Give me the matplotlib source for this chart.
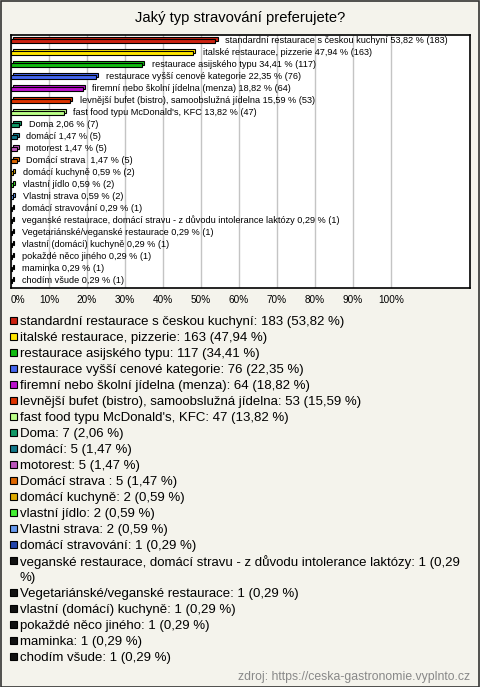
import numpy as np
import matplotlib.pyplot as plt
from matplotlib.patches import Rectangle

plt.rcParams['font.family'] = ['Liberation Sans', 'DejaVu Sans']

# data
names = ["standardní restaurace s českou kuchyní", "italské restaurace, pizzerie",
         "restaurace asijského typu", "restaurace vyšší cenové kategorie",
         "firemní nebo školní jídelna (menza)", "levnější bufet (bistro), samoobslužná jídelna",
         "fast food typu McDonald's, KFC", "Doma", "domácí", "motorest", "Domácí strava ",
         "domácí kuchyně", "vlastní jídlo", "Vlastni strava", "domácí stravování",
         "veganské restaurace, domácí stravu - z důvodu intolerance laktózy",
         "Vegetariánské/veganské restaurace", "vlastní (domácí) kuchyně",
         "pokaždé něco jiného", "maminka", "chodím všude"]
counts = [183, 163, 117, 76, 64, 53, 47, 7, 5, 5, 5, 2, 2, 2, 1, 1, 1, 1, 1, 1, 1]
percents = [53.82, 47.94, 34.41, 22.35, 18.82, 15.59, 13.82, 2.06, 1.47, 1.47, 1.47,
            0.59, 0.59, 0.59, 0.29, 0.29, 0.29, 0.29, 0.29, 0.29, 0.29]
colors = ["#cc2211", "#ffe600", "#11bb11", "#4466ee", "#bb11cc", "#dd3300", "#bbff88",
          "#119966", "#117788", "#bb55bb", "#dd6600", "#ddaa00", "#44ee33", "#6699ee",
          "#2244aa"] + ["#111111"] * 6
xticks = list(range(0, 101, 10))

W, H = 480, 687
bg = "#f4f3ec"
fig = plt.figure(figsize=(W / 100, H / 100), dpi=100, facecolor=bg)

def pct(v):
    return ("%.2f" % v).replace(".", ",")

# bar chart
ax = fig.add_axes([11 / W, 1 - 288 / H, (470 - 11) / W, (288 - 35) / H])
ax.set_facecolor("white")
y = np.arange(len(names))
h = 0.4
dx, dy = 0.55, 0.17
ax.barh(y - dy, percents, left=dx, height=h, color=colors, edgecolor="black", lw=0.8, zorder=3)
ax.barh(y, percents, height=h, color=colors, edgecolor="black", lw=0.8, zorder=4)
for yi, n, c, p in zip(y, names, counts, percents):
    ax.text(p + 2.6, yi - 0.08, "%s %s %% (%d)" % (n, pct(p), c), fontsize=6.6,
            va="center", ha="left", zorder=5)
ax.set_xlim(0, 120.8)
ax.set_ylim(20.58, -0.5)
ax.set_yticks([])
ax.set_xticks(xticks)
ax.set_xticklabels(["%d%%" % t for t in xticks], fontsize=7.2)
ax.get_xticklabels()[0].set_ha("left")
ax.tick_params(axis="x", length=0, pad=5)
ax.grid(axis="x", color="#c4c4c4", lw=1, zorder=0)
for s in ax.spines.values():
    s.set_linewidth(1.2)

fig.text(0.5, 1 - 18 / H, "Jaký typ stravování preferujete?", ha="center", va="center", fontsize=10.6)

# legend
ly = 322
for n, c, p, col in zip(names, counts, percents, colors):
    label = "%s: %d (%s %%)" % (n, c, pct(p))
    lines = [label]
    if len(label) > 72:
        cut = label.rfind(" ")
        lines = [label[:cut], label[cut + 1:]]
    fig.patches.append(Rectangle((10 / W, 1 - (ly + 1.5) / H), 7 / W, 7 / H,
                                 transform=fig.transFigure, facecolor=col,
                                 edgecolor="black", lw=0.8))
    for line in lines:
        fig.text(20 / W, 1 - ly / H, line, ha="left", va="center", fontsize=9.5)
        ly += 16

fig.text(470 / W, 1 - 677 / H, "zdroj: https://ceska-gastronomie.vyplnto.cz", ha="right",
         va="center", fontsize=8.8, color="#888888")

fig.patches.append(Rectangle((0.5 / W, 0.5 / H), (W - 1.5) / W, (H - 1.5) / H,
                             transform=fig.transFigure, facecolor="none",
                             edgecolor="#333333", lw=1.2))

fig.savefig("out.png", dpi=100, facecolor=bg)
